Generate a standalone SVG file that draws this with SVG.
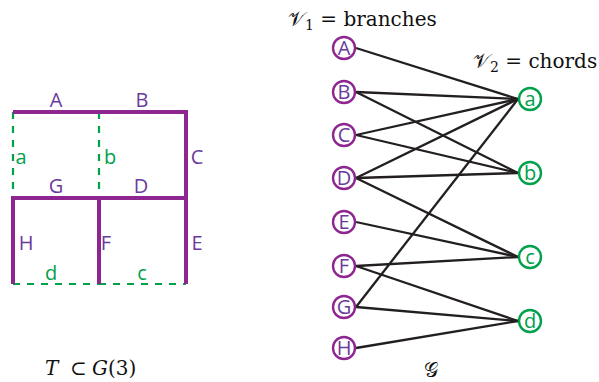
<svg xmlns="http://www.w3.org/2000/svg" width="599" height="382" viewBox="0 0 599 382">
<style>
.tree{stroke:#8e268f;stroke-width:4;fill:none;stroke-linecap:butt}
.chord{stroke:#00a14b;stroke-width:2.2;fill:none;stroke-dasharray:7 7}
.lp{font-family:"Open Sans","Liberation Sans",sans-serif;font-size:20px;fill:#6a3b9c;text-anchor:middle}
.lg{font-family:"Open Sans","Liberation Sans",sans-serif;font-size:20px;fill:#00a14b;text-anchor:middle}
.np{fill:#fff;stroke:#8e268f;stroke-width:2.4}
.ng{fill:#fff;stroke:#00a14b;stroke-width:2.4}
.edge{stroke:#231f20;stroke-width:2.3;fill:none}
.math{font-family:"DejaVu Serif","Liberation Serif",serif;font-size:20px;fill:#111}
</style>
<g id="tree-grid">
<line class="chord" x1="13" y1="112" x2="13" y2="198"/>
<line class="chord" x1="99" y1="112" x2="99" y2="198"/>
<line class="chord" x1="13" y1="284" x2="99" y2="284"/>
<line class="chord" x1="99" y1="284" x2="186" y2="284"/>
<line class="tree" x1="13" y1="112" x2="188" y2="112"/>
<line class="tree" x1="186" y1="110" x2="186" y2="198"/>
<line class="tree" x1="11" y1="198" x2="188" y2="198"/>
<line class="tree" x1="13" y1="196" x2="13" y2="284"/>
<line class="tree" x1="99" y1="196" x2="99" y2="284"/>
<line class="tree" x1="186" y1="196" x2="186" y2="284"/>
<text class="lp" x="56" y="107">A</text>
<text class="lp" x="142" y="107">B</text>
<text class="lp" x="197" y="164">C</text>
<text class="lg" x="21" y="164">a</text>
<text class="lg" x="110" y="164">b</text>
<text class="lp" x="56" y="193">G</text>
<text class="lp" x="141" y="193">D</text>
<text class="lp" x="26" y="250">H</text>
<text class="lp" x="106" y="250">F</text>
<text class="lp" x="197" y="250">E</text>
<text class="lg" x="51" y="280">d</text>
<text class="lg" x="142" y="280">c</text>
</g>
<g id="connectors">
<line class="edge" x1="356" y1="48" x2="518" y2="99"/>
<line class="edge" x1="356" y1="92" x2="518" y2="99"/>
<line class="edge" x1="356" y1="92" x2="518" y2="173"/>
<line class="edge" x1="356" y1="135" x2="518" y2="99"/>
<line class="edge" x1="356" y1="135" x2="518" y2="173"/>
<line class="edge" x1="356" y1="178" x2="518" y2="99"/>
<line class="edge" x1="356" y1="178" x2="518" y2="173"/>
<line class="edge" x1="356" y1="178" x2="518" y2="257"/>
<line class="edge" x1="356" y1="222" x2="518" y2="257"/>
<line class="edge" x1="356" y1="266" x2="518" y2="257"/>
<line class="edge" x1="356" y1="266" x2="518" y2="321"/>
<line class="edge" x1="356" y1="307" x2="518" y2="99"/>
<line class="edge" x1="356" y1="307" x2="518" y2="321"/>
<line class="edge" x1="356" y1="348" x2="518" y2="321"/>
</g>
<g id="node-A"><circle class="np" cx="344" cy="48" r="11"/><text class="lp" x="344" y="55">A</text></g>
<g id="node-B"><circle class="np" cx="344" cy="92" r="11"/><text class="lp" x="344" y="99">B</text></g>
<g id="node-C"><circle class="np" cx="344" cy="135" r="11"/><text class="lp" x="344" y="142">C</text></g>
<g id="node-D"><circle class="np" cx="344" cy="178" r="11"/><text class="lp" x="344" y="185">D</text></g>
<g id="node-E"><circle class="np" cx="344" cy="222" r="11"/><text class="lp" x="344" y="229">E</text></g>
<g id="node-F"><circle class="np" cx="344" cy="266" r="11"/><text class="lp" x="344" y="273">F</text></g>
<g id="node-G"><circle class="np" cx="344" cy="307" r="11"/><text class="lp" x="344" y="314">G</text></g>
<g id="node-H"><circle class="np" cx="344" cy="348" r="11"/><text class="lp" x="344" y="355">H</text></g>
<g id="node-a"><circle class="ng" cx="530" cy="99" r="11"/><text class="lg" x="530" y="106">a</text></g>
<g id="node-b"><circle class="ng" cx="530" cy="173" r="11"/><text class="lg" x="530" y="180">b</text></g>
<g id="node-c"><circle class="ng" cx="530" cy="257" r="11"/><text class="lg" x="530" y="264">c</text></g>
<g id="node-d"><circle class="ng" cx="530" cy="321" r="11"/><text class="lg" x="530" y="328">d</text></g>
<g id="labels">
<text class="math" x="288" y="26">𝒱<tspan font-size="14" dy="4">1</tspan><tspan dy="-4"> = branches</tspan></text>
<text class="math" x="473" y="68">𝒱<tspan font-size="14" dy="4">2</tspan><tspan dy="-4"> = chords</tspan></text>
<text class="math" x="424" y="377" font-size="22">𝒢</text>
<text class="math" x="45" y="375"><tspan font-style="italic">T</tspan><tspan x="70">⊂</tspan><tspan x="92" font-style="italic">G</tspan>(3)</text>
</g>
</svg>
